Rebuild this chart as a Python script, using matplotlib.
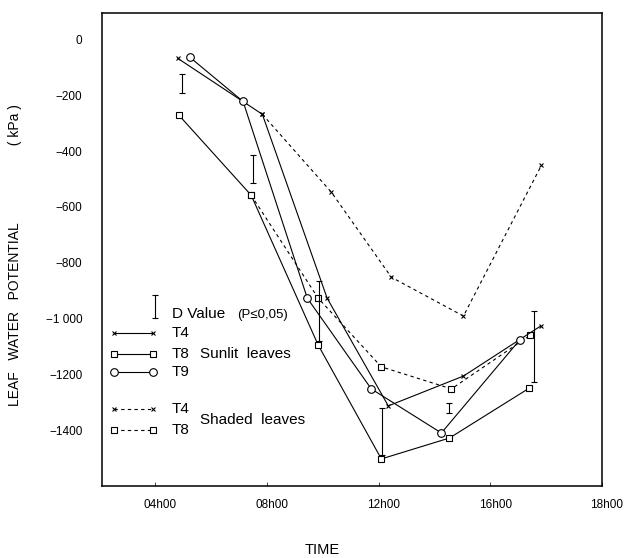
import matplotlib
matplotlib.use("Agg")
import matplotlib.pyplot as plt
import matplotlib.transforms as mtransforms

plt.rcParams['font.family'] = ['Liberation Sans', 'DejaVu Sans']

# Leaf water potential (kPa) against time of day (hours)
# sunlit leaves
t4_sun_time = [4.82, 7.84, 10.16, 12.35, 15.04, 17.8]
t4_sun_lwp = [-68, -268, -927, -1313, -1206, -1027]
t8_sun_time = [4.86, 7.44, 9.84, 12.1, 14.54, 17.4]
t8_sun_lwp = [-272, -558, -1095, -1503, -1428, -1249]
t9_sun_time = [5.25, 7.15, 9.45, 11.74, 14.25, 17.05]
t9_sun_lwp = [-64, -222, -927, -1252, -1410, -1077]

# shaded leaves
t4_shade_time = [7.84, 10.31, 12.46, 15.04, 17.83]
t4_shade_lwp = [-268, -547, -852, -991, -451]
t8_shade_time = [7.44, 9.84, 12.1, 14.61, 17.44]
t8_shade_lwp = [-558, -927, -1173, -1252, -1059]

# D values (P<=0,05)
d_time = [4.97, 7.51, 9.88, 12.14, 14.54, 17.58]
d_low = [-193, -515, -1080, -1490, -1338, -1227]
d_high = [-125, -415, -866, -1320, -1302, -973]

x_ticks = [4, 8, 12, 16, 20]
x_labels = ["04h00", "08h00", "12h00", "16h00", "18h00"]
y_ticks = [0, -200, -400, -600, -800, -1000, -1200, -1400]
y_labels = ["0", "\u2212200", "\u2212400", "\u2212600", "\u2212800", "\u22121 000", "\u22121200", "\u22121400"]

fig = plt.figure(figsize=(6.27, 5.58), dpi=100)
ax = fig.add_axes([102 / 627, 1 - 486 / 558, 500 / 627, 473 / 558])

lw = 0.8
solid = dict(color="black", lw=lw, linestyle="-")
dashed = dict(color="black", lw=lw, linestyle=(0, (3, 3)))
x_mk = dict(marker="x", ms=3.5, mew=0.8)
sq_mk = dict(marker="s", ms=4.8, mfc="white", mec="black", mew=0.8)
o_mk = dict(marker="o", ms=5.5, mfc="white", mec="black", mew=0.8)

ax.plot(t4_shade_time, t4_shade_lwp, **dashed, **x_mk)
ax.plot(t8_shade_time, t8_shade_lwp, **dashed, **sq_mk)
ax.plot(t4_sun_time, t4_sun_lwp, **solid, **x_mk)
ax.plot(t9_sun_time, t9_sun_lwp, **solid, **o_mk)
ax.plot(t8_sun_time, t8_sun_lwp, **solid, **sq_mk)

d_mid = [(a + b) / 2 for a, b in zip(d_low, d_high)]
d_err = [(b - a) / 2 for a, b in zip(d_low, d_high)]
ax.errorbar(d_time, d_mid, yerr=d_err, fmt="none", ecolor="black",
            elinewidth=lw, capsize=2.5, capthick=lw)

# hand-built legend inside the axes
key_x0, key_x1, key_text_x = 0.024, 0.102, 0.14
ax.plot([0.106, 0.106], [0.355, 0.404], transform=ax.transAxes, color="black",
        lw=lw, marker="_", ms=5, mew=lw)
ax.text(key_text_x, 0.364, "D Value", transform=ax.transAxes, fontsize=11, va="center")
ax.text(0.27, 0.362, "(P\u22640,05)", transform=ax.transAxes, fontsize=9.5, va="center")

legend_rows = [
    (0.323, "T4", solid, x_mk),
    (0.279, "T8", solid, sq_mk),
    (0.241, "T9", solid, o_mk),
    (0.163, "T4", dashed, x_mk),
    (0.118, "T8", dashed, sq_mk),
]
for y, label, ls, mk in legend_rows:
    ax.plot([key_x0, key_x1], [y, y], transform=ax.transAxes, **ls, **mk)
    ax.text(key_text_x, y, label, transform=ax.transAxes, fontsize=11, va="center")
ax.text(0.196, 0.279, "Sunlit  leaves", transform=ax.transAxes, fontsize=11, va="center")
ax.text(0.196, 0.140, "Shaded  leaves", transform=ax.transAxes, fontsize=11, va="center")

ax.set_xlim(2.1, 20.0)
ax.set_ylim(-1600, 95)
ax.set_xticks(x_ticks)
ax.set_xticklabels(x_labels, fontsize=8.5)
ax.set_yticks(y_ticks)
ax.set_yticklabels(y_labels, fontsize=8.5)
ax.tick_params(axis="x", direction="in", length=3, width=0.5, pad=9)
ax.tick_params(axis="y", length=0, pad=14)
offset = mtransforms.ScaledTranslation(5 / 100, 0, fig.dpi_scale_trans)
for lab in ax.get_xticklabels():
    lab.set_transform(lab.get_transform() + offset)

for s in ax.spines.values():
    s.set_linewidth(1.1)

ax.set_ylabel("LEAF   WATER   POTENTIAL" + " " * 20 + "( kPa )", fontsize=10)
ax.yaxis.set_label_coords(-0.16, 0.488)
ax.set_xlabel("TIME", fontsize=10.5)
ax.xaxis.set_label_coords(0.44, -0.12)

fig.savefig("out.png", dpi=100)
